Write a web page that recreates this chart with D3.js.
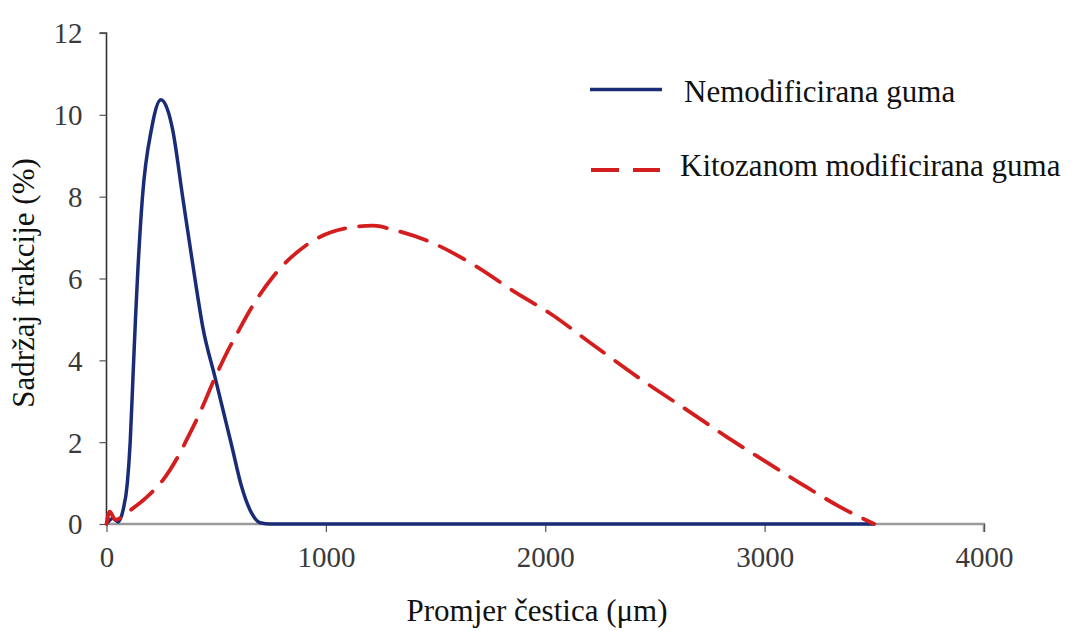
<!DOCTYPE html>
<html>
<head>
<meta charset="utf-8">
<script src="https://cdn.jsdelivr.net/npm/d3@7"></script>
<style>
  html, body { margin: 0; padding: 0; background: #fff; }
  svg { display: block; }
  svg text { font-family: "Liberation Serif", "Times New Roman", "DejaVu Serif", serif !important; }
</style>
</head>
<body>
<svg id="chart" width="1075" height="631"></svg>
<script>
// ---- Data ----
const seriesNames = ["Nemodificirana guma", "Kitozanom modificirana guma"];

const blueX = [0, 30, 53, 76, 95, 108, 120, 132, 141, 164, 205, 248, 280, 301, 347, 403, 440, 494, 570, 616, 661, 700, 750, 1000, 1500, 2000, 2500, 3000, 3500];
const blueY = [0, 0.14, 0.05, 0.35, 1.0, 2.0, 3.5, 5.0, 6.0, 8.0, 9.65, 10.37, 10.1, 9.65, 8.0, 6.0, 4.78, 3.6, 1.93, 0.91, 0.27, 0.03, 0, 0, 0, 0, 0, 0, 0];

const redX = [0, 15, 40, 99, 204, 258, 334, 372, 425, 494, 547, 608, 646, 760, 912, 1094, 1216, 1307, 1490, 1687, 1870, 2021, 2200, 2462, 2645, 2827, 2994, 3161, 3343, 3500];
const redY = [0, 0.3, 0.1, 0.3, 0.76, 1.08, 1.73, 2.13, 2.71, 3.57, 4.17, 4.78, 5.15, 6.05, 6.82, 7.23, 7.29, 7.19, 6.86, 6.29, 5.64, 5.15, 4.45, 3.44, 2.79, 2.13, 1.56, 1.0, 0.42, 0];

const xTicks = [0, 1000, 2000, 3000, 4000];
const yTicks = [0, 2, 4, 6, 8, 10, 12];
const xTitle = "Promjer čestica (μm)";
const yTitle = "Sadržaj frakcije (%)";

// ---- Layout ----
const FONT = '"Liberation Serif", "Times New Roman", "DejaVu Serif", serif';
const svg = d3.select("#chart");
const x = d3.scaleLinear().domain([0, 4000]).range([106.5, 984]);
const y = d3.scaleLinear().domain([0, 12]).range([524, 33]);

// y axis
const yAxis = svg.append("g").attr("transform", `translate(${x(0)},0)`)
  .call(d3.axisLeft(y).tickValues(yTicks).tickSize(7).tickPadding(17).tickFormat(d3.format("d")));
yAxis.attr("font-family", null);
yAxis.select(".domain").attr("stroke", "#333").attr("stroke-width", 1.6).attr("d", `M-7,${y(12)}H0V${y(0)}`);
yAxis.selectAll(".tick line").attr("stroke", "#555").attr("stroke-width", 1.2);
yAxis.selectAll(".tick text").attr("fill", "#3a3a3a").style("font-size", "29px")
  .attr("font-family", FONT).attr("dy", "0.34em");

// x axis
const xAxis = svg.append("g").attr("transform", `translate(0,${y(0)})`)
  .call(d3.axisBottom(x).tickValues(xTicks).tickSize(8).tickPadding(14).tickFormat(d3.format("d")));
xAxis.attr("font-family", null);
xAxis.select(".domain").attr("stroke", "#9a9a9a").attr("stroke-width", 2.5).attr("d", `M${x(0)},0H${x(4000)}V8`);
xAxis.selectAll(".tick line").attr("stroke", "#555").attr("stroke-width", 1.2);
xAxis.selectAll(".tick text").attr("fill", "#3a3a3a").style("font-size", "29px")
  .attr("font-family", FONT);

// lines
const lineGen = d3.line().x(d => x(d[0])).y(d => y(d[1])).curve(d3.curveMonotoneX);
const blueData = blueX.map((v, i) => [v, blueY[i]]);
const redData = redX.map((v, i) => [v, redY[i]]);

svg.append("path").datum(blueData)
  .attr("d", lineGen).attr("fill", "none")
  .attr("stroke", "#1a2c78").attr("stroke-width", 3.5).attr("stroke-linejoin", "round");

svg.append("path").datum(redData)
  .attr("d", lineGen).attr("fill", "none")
  .attr("stroke", "#d41e1e").attr("stroke-width", 3.8)
  .attr("stroke-dasharray", "28,14").attr("stroke-linecap", "round");

// legend
const legend = svg.append("g").attr("font-family", FONT);
legend.append("line").attr("x1", 590).attr("x2", 662).attr("y1", 89.5).attr("y2", 89.5)
  .attr("stroke", "#1a2c78").attr("stroke-width", 3.5);
legend.append("text").attr("x", 684).attr("y", 102).style("font-size", "31px").attr("fill", "#111")
  .text(seriesNames[0]);
legend.append("line").attr("x1", 591).attr("x2", 660).attr("y1", 170).attr("y2", 170)
  .attr("stroke", "#d41e1e").attr("stroke-width", 3.8).attr("stroke-dasharray", "28,14");
legend.append("text").attr("x", 680).attr("y", 176).style("font-size", "31px").attr("fill", "#111")
  .text(seriesNames[1]);

// axis titles
svg.append("text").attr("x", 537).attr("y", 621).attr("text-anchor", "middle").attr("font-family", FONT)
  .style("font-size", "31px").attr("fill", "#111").text(xTitle);
svg.append("text").attr("transform", "translate(34,283) rotate(-90)").attr("text-anchor", "middle").attr("font-family", FONT)
  .style("font-size", "31px").attr("fill", "#111").text(yTitle);
</script>
</body>
</html>
